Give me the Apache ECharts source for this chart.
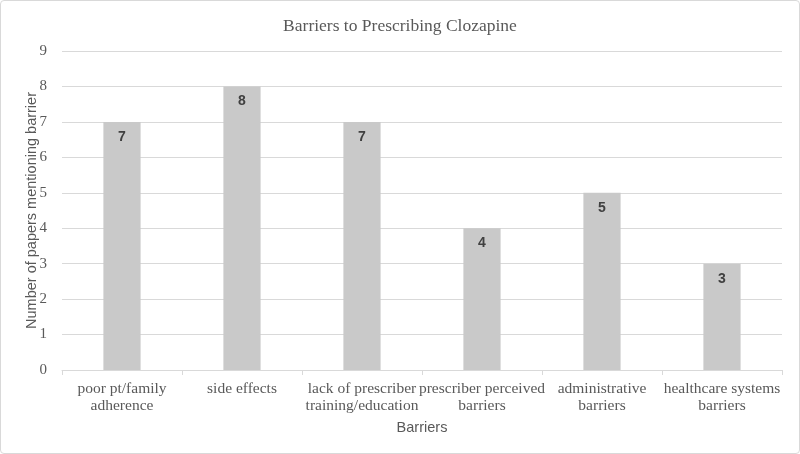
<!DOCTYPE html>
<html>
<head>
<meta charset="utf-8">
<script src="https://cdn.jsdelivr.net/npm/echarts@6/dist/echarts.min.js"></script>
<style>
  html, body { margin: 0; padding: 0; background: #fff; }
  #chart { width: 800px; height: 454px; box-sizing: border-box; border: 1px solid #d9d9d9; border-radius: 4px; }
</style>
</head>
<body>
<div id="chart"></div>
<script>
// categories and counts
var categories = [
  'poor pt/family\nadherence',
  'side effects',
  'lack of prescriber\ntraining/education',
  'prescriber perceived\nbarriers',
  'administrative\nbarriers',
  'healthcare systems\nbarriers'
];
var paperCounts = [7, 8, 7, 4, 5, 3];

var serif = '"Liberation Serif", "DejaVu Serif", serif';
var sans = '"Liberation Sans", Arial, sans-serif';

var chart = echarts.init(document.getElementById('chart'));
chart.setOption({
  animation: false,
  title: {
    text: 'Barriers to Prescribing Clozapine',
    left: 'center',
    top: 11,
    textStyle: { fontFamily: serif, fontSize: 17.5, fontWeight: 'normal', color: '#595959' }
  },
  grid: { left: 61, right: 17, top: 50, bottom: 83 },
  xAxis: {
    type: 'category',
    data: categories,
    name: 'Barriers',
    nameLocation: 'middle',
    nameGap: 50,
    nameTextStyle: { fontFamily: sans, fontSize: 14.5, color: '#595959' },
    axisLine: { lineStyle: { color: '#d9d9d9' } },
    axisTick: { show: true, length: 5, lineStyle: { color: '#d9d9d9' } },
    axisLabel: { fontFamily: serif, fontSize: 15.5, color: '#595959', lineHeight: 17, margin: 10, interval: 0 }
  },
  yAxis: {
    type: 'value',
    min: 0,
    max: 9,
    interval: 1,
    name: 'Number of papers mentioning barrier',
    nameLocation: 'middle',
    nameGap: 23,
    nameMoveOverlap: false,
    nameTextStyle: { fontFamily: sans, fontSize: 14.5, color: '#595959' },
    axisLine: { show: false },
    axisTick: { show: false },
    axisLabel: { fontFamily: serif, fontSize: 15, color: '#595959', margin: 15 },
    splitLine: { lineStyle: { color: '#d9d9d9' } }
  },
  series: [{
    type: 'bar',
    data: paperCounts,
    barWidth: '31%',
    itemStyle: { color: '#c9c9c9' },
    label: {
      show: true,
      position: 'insideTop',
      distance: 8,
      fontFamily: sans,
      fontSize: 14,
      fontWeight: 'bold',
      color: '#404040'
    }
  }]
});
</script>
</body>
</html>
